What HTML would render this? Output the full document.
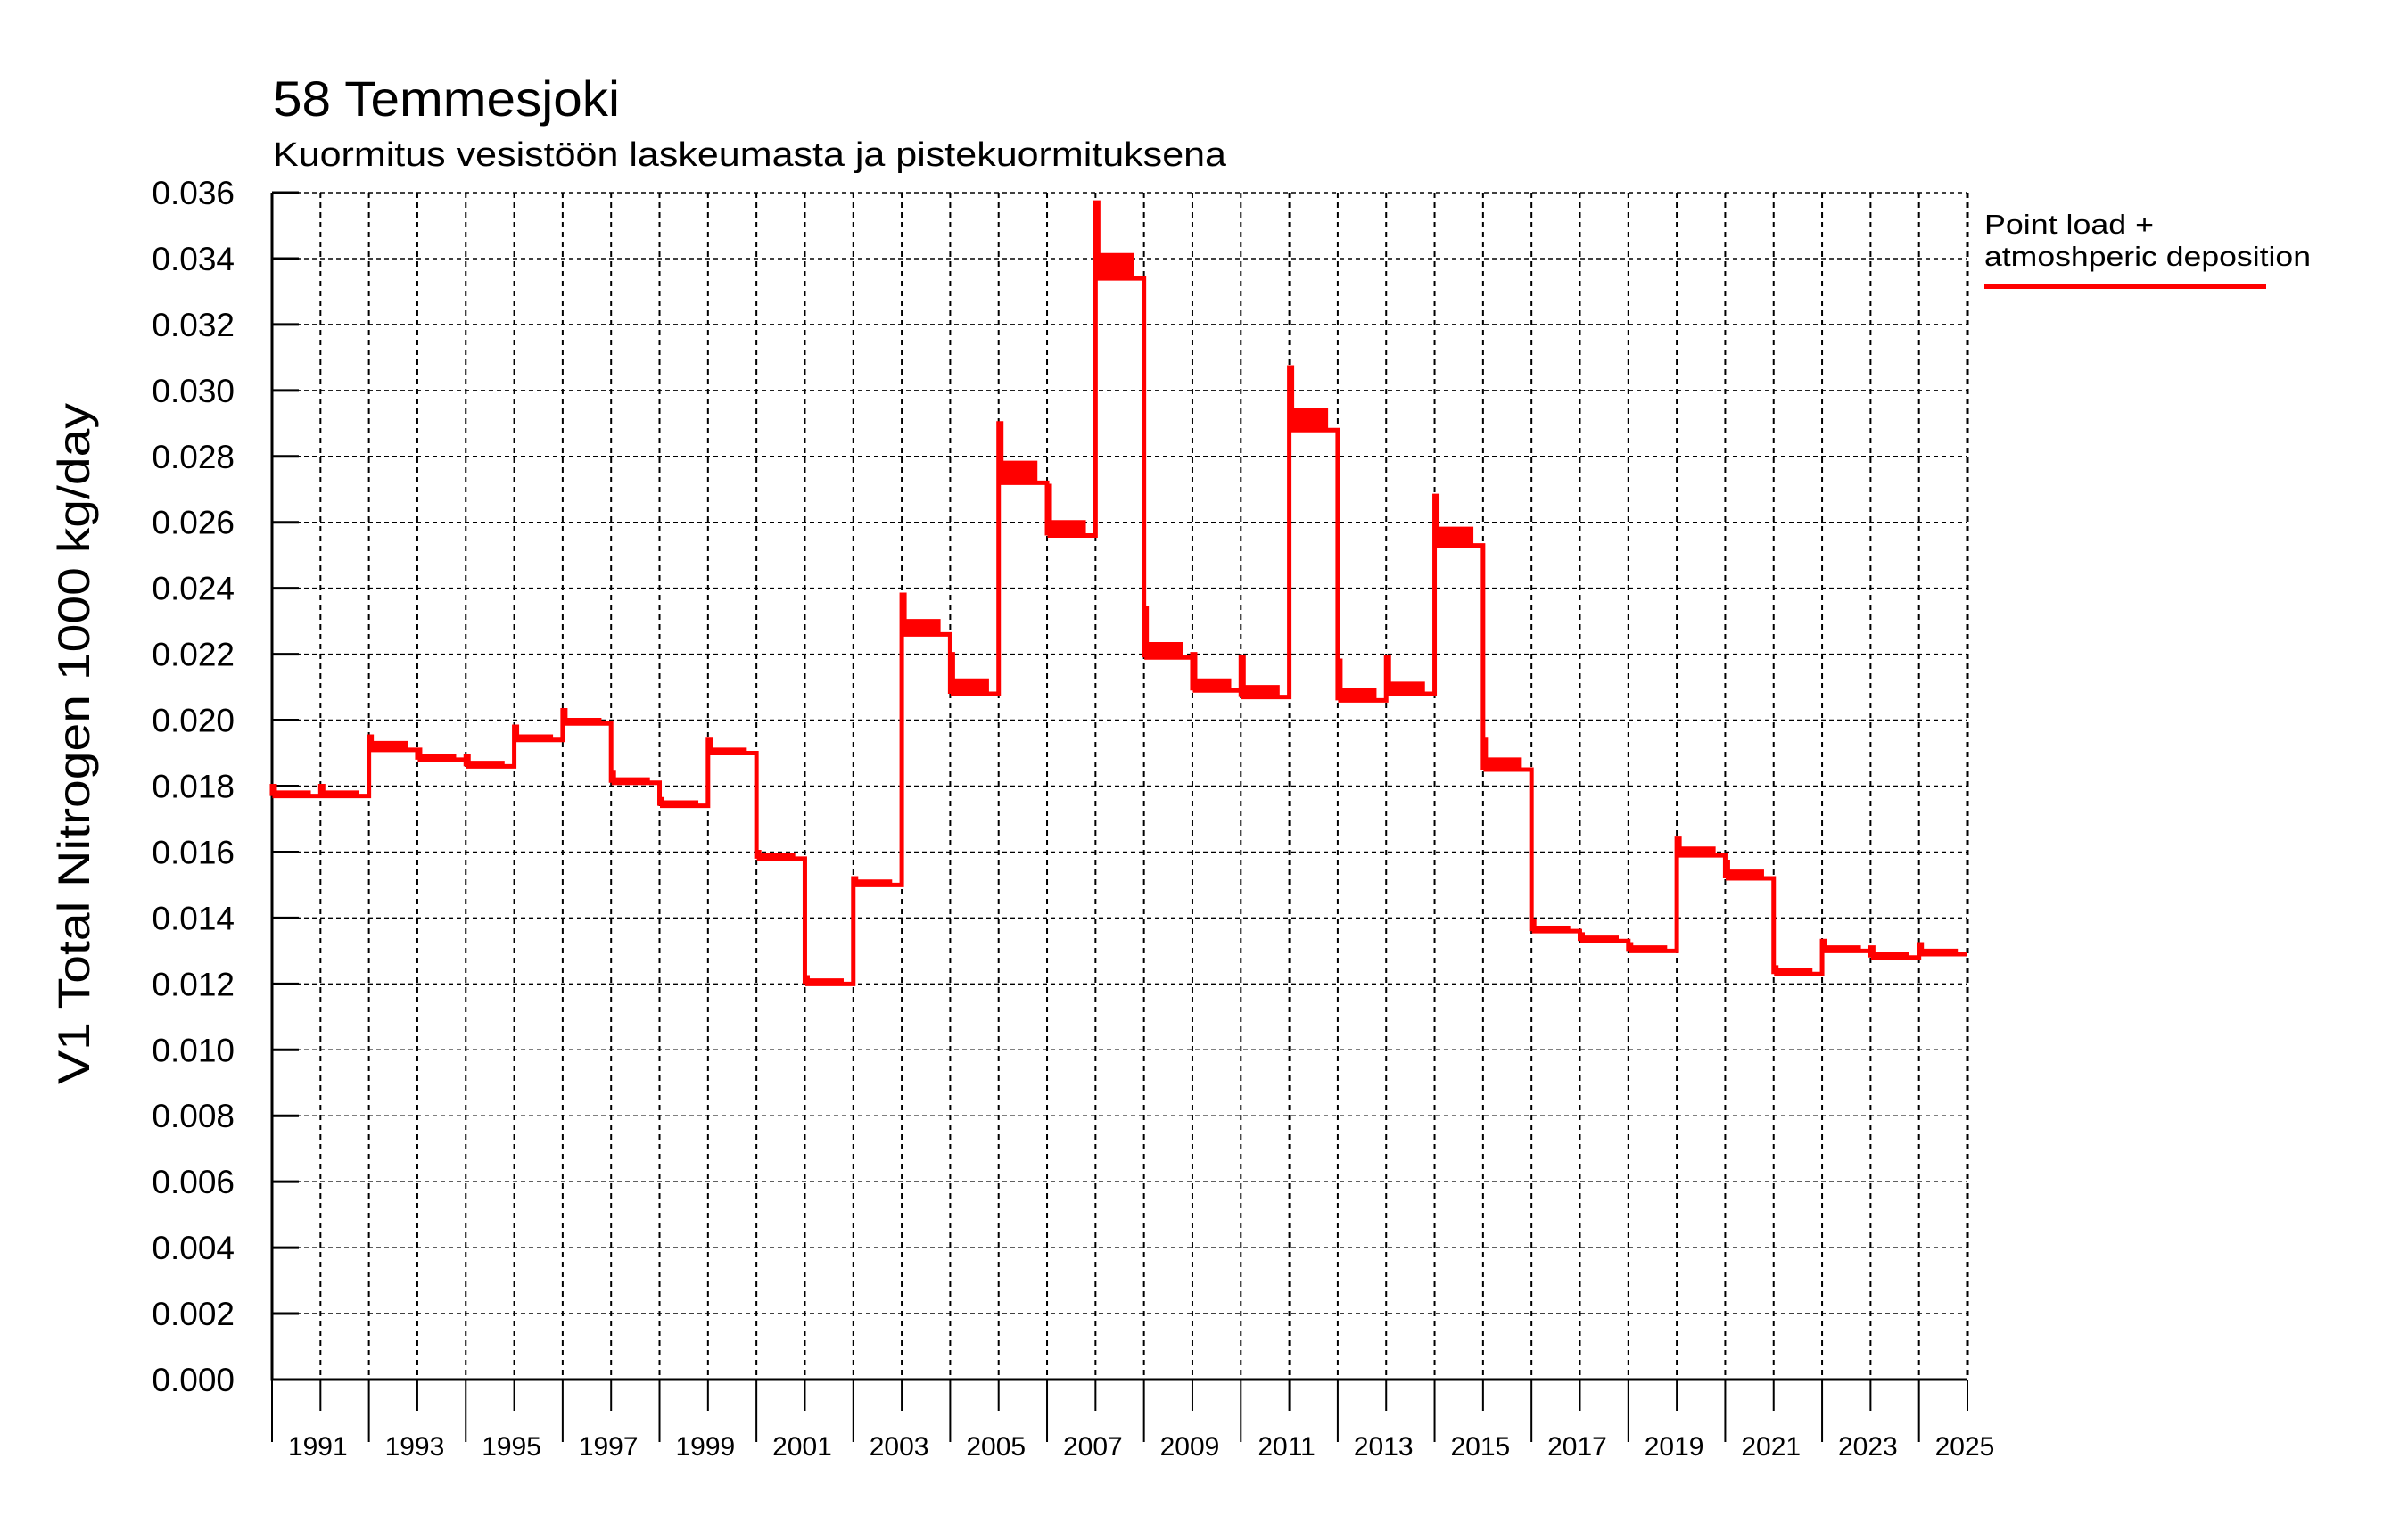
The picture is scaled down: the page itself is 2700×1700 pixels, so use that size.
<!DOCTYPE html>
<html><head><meta charset="utf-8"><style>
html,body{margin:0;padding:0;background:#fff;}
svg{display:block;font-family:"Liberation Sans",sans-serif;}
</style></head><body>
<svg id="chart" width="2700" height="1700" viewBox="0 0 2700 1700" xmlns="http://www.w3.org/2000/svg">
<text x="306" y="130" font-size="56" textLength="389" lengthAdjust="spacingAndGlyphs">58 Temmesjoki</text>
<text x="306" y="186" font-size="38" textLength="1069" lengthAdjust="spacingAndGlyphs">Kuormitus vesistöön laskeumasta ja pistekuormituksena</text>
<text transform="translate(100,834) rotate(-90)" text-anchor="middle" font-size="50" textLength="764" lengthAdjust="spacingAndGlyphs">V1 Total Nitrogen 1000 kg/day</text>
<g id="grid"></g>
<g id="axes"></g>
<g id="series"></g>
<g>
<text x="2225" y="262" font-size="31" textLength="190" lengthAdjust="spacingAndGlyphs">Point load +</text>
<text x="2225" y="298" font-size="31" textLength="366" lengthAdjust="spacingAndGlyphs">atmoshperic deposition</text>
<line x1="2225" y1="321" x2="2541" y2="321" stroke="#ff0000" stroke-width="6"/>
</g>
</svg>
<script>
const years = [1990,1991,1992,1993,1994,1995,1996,1997,1998,1999,2000,2001,2002,2003,2004,2005,2006,2007,2008,2009,2010,2011,2012,2013,2014,2015,2016,2017,2018,2019,2020,2021,2022,2023,2024];
const baseValues = [0.0177,0.0177,0.0191,0.0188,0.0186,0.0194,0.0199,0.0181,0.0174,0.0190,0.0158,0.0120,0.0150,0.0226,0.0208,0.0272,0.0256,0.0334,0.0219,0.0209,0.0207,0.0288,0.0206,0.0208,0.0253,0.0185,0.0136,0.0133,0.0130,0.0159,0.0152,0.0123,0.0130,0.0128,0.0129];
const peakValues = [0.0180,0.0180,0.0195,0.0191,0.0189,0.0198,0.0203,0.0184,0.0176,0.0194,0.0160,0.0122,0.0152,0.0238,0.0220,0.0290,0.0271,0.0357,0.0234,0.0220,0.0219,0.0307,0.0218,0.0219,0.0268,0.0194,0.0139,0.0135,0.0132,0.0164,0.0157,0.0125,0.0133,0.0131,0.0132];
const jagValues = [0.0001,0.0001,0.0002,0.0001,0.0001,0.0001,0.0001,0.0001,0.0001,0.0001,0.0001,0.0001,0.0001,0.0004,0.0004,0.0006,0.0004,0.0007,0.0004,0.0003,0.0003,0.0006,0.0003,0.0003,0.0005,0.0003,0.0001,0.0001,0.0001,0.0002,0.0002,0.0001,0.0001,0.0001,0.0001];
const yTicks = [0,0.002,0.004,0.006,0.008,0.010,0.012,0.014,0.016,0.018,0.020,0.022,0.024,0.026,0.028,0.030,0.032,0.034,0.036];
const xLabelYears = [1991,1993,1995,1997,1999,2001,2003,2005,2007,2009,2011,2013,2015,2017,2019,2021,2023,2025];

const L=305,R=2206,T=216,B=1547,X0=1990,X1=2025,YMAX=0.036;
const x=v=>L+(v-X0)/(X1-X0)*(R-L);
const y=v=>B-v/YMAX*(B-T);
const NS='http://www.w3.org/2000/svg';
function mk(tag,attrs,parent){const e=document.createElementNS(NS,tag);for(const k in attrs)e.setAttribute(k,attrs[k]);parent.appendChild(e);return e;}
const grid=document.getElementById('grid'),axes=document.getElementById('axes'),series=document.getElementById('series');

yTicks.forEach(t=>{
  if(t>0){const g=mk('line',{x1:L,x2:R,y1:y(t),y2:y(t),stroke:'#000','stroke-width':1.5,'stroke-dasharray':'5,4'},grid);
  
  }
  const tk=mk('line',{x1:L,x2:L+30,y1:y(t),y2:y(t),stroke:'#000','stroke-width':3},axes);
  
  
  const lb=mk('text',{x:263,y:y(t)+13,'text-anchor':'end','font-size':37},axes);
  lb.textContent=t.toFixed(3);
  
  
});
for(let yr=X0;yr<=X1;yr++){
  if(yr>X0){const g=mk('line',{x1:x(yr),x2:x(yr),y1:T,y2:B,stroke:'#000','stroke-width':yr===X1?3:2,'stroke-dasharray':'6,5'},grid);
  
  }
  const even=(yr%2===0);
  const tk=mk('line',{x1:x(yr),x2:x(yr),y1:B,y2:even?1617:1582,stroke:'#000','stroke-width':2},axes);
  
  
}
xLabelYears.forEach(yr=>{
  const lb=mk('text',{x:x(yr)-3,y:1632,'text-anchor':'middle','font-size':30},axes);
  lb.textContent=String(yr);
  
  
});
const axisPath=mk('path',{d:`M${L},${T}V${B}H${R}`,fill:'none',stroke:'#000','stroke-width':3},axes);


const axisTopTick=mk('line',{x1:L,x2:L+30,y1:T,y2:T,stroke:'#000','stroke-width':3},axes);



let d='';
years.forEach((yr,i)=>{
  const x0=x(yr),x1=x(yr+1),b=baseValues[i],p=peakValues[i],j=jagValues[i];
  d+=(i===0?'M':'L')+x0+','+y(b);
  d+='L'+x0+','+y(p)+'L'+(x0+3)+','+y(p)+'L'+(x0+3)+','+y(b);
  const span=x1-x0, steps=8;
  for(let k=1;k<steps;k++){
    const xa=x0+3+span*0.7*k/steps;
    d+='L'+xa+','+y(b+(k%2?0:j))+'L'+xa+','+y(b+(k%2?j:0));
  }
  const xe=x0+3+span*0.7;
  d+='L'+xe+','+y(b+j)+'L'+xe+','+y(b)+'L'+x1+','+y(b);
});
const seriesLine=mk('path',{d:d,fill:'none',stroke:'#ff0000','stroke-width':5,'stroke-linejoin':'miter'},series);


</script>
</body></html>
